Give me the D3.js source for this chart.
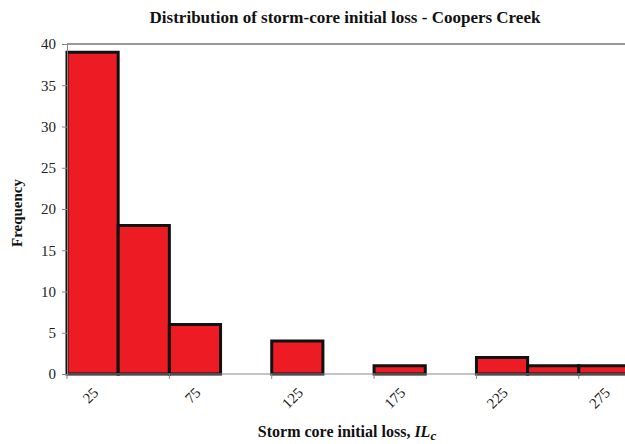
<!DOCTYPE html>
<html>
<head>
<meta charset="utf-8">
<script src="https://cdn.jsdelivr.net/npm/d3@7"></script>
<style>
  body { margin: 0; background: #fff; }
  text { font-family: "Liberation Serif", "Times New Roman", serif; }
</style>
</head>
<body>
<div id="chart"></div>
<script>
// histogram bins (initial loss) and their counts
var bins = ["25", "50", "75", "100", "125", "150", "175", "200", "225", "250", "275"]
var counts = [39, 18, 6, 0, 4, 0, 1, 0, 2, 1, 1]
var tickLabels = ["25", "75", "125", "175", "225", "275"]
var yTicks = [0, 5, 10, 15, 20, 25, 30, 35, 40]

var width = 625,
    height = 444

var svg = d3.select("#chart")
    .append("svg")
        .attr("width", width)
        .attr("height", height)

var x = d3.scaleBand()
    .domain(bins)
    .range([67, 630])
    .padding(0)

var y = d3.scaleLinear()
    .domain([0, 40])
    .range([374, 44])

// top line at 40
svg.append("line")
    .attr("x1", 67).attr("x2", width)
    .attr("y1", y(40)).attr("y2", y(40))
    .attr("stroke", "#333").attr("stroke-width", 1)

// bars (empty bins are skipped)
var barData = bins.map(function(b, i){ return {bin: b, count: counts[i]} })
    .filter(function(d){ return d.count > 0 })

svg.selectAll("rect.bar")
    .data(barData)
    .enter()
    .append("rect")
        .attr("class", "bar")
        .attr("x", function(d){ return x(d.bin) })
        .attr("y", function(d){ return y(d.count) })
        .attr("width", x.bandwidth())
        .attr("height", function(d){ return y(0) - y(d.count) })
        .attr("fill", "#ed1c24")
        .attr("stroke", "#111")
        .attr("stroke-width", 3)

// y axis
var yAxis = svg.append("g")
    .attr("transform", "translate(67,0)")
    .call(d3.axisLeft(y).tickValues(yTicks).tickSize(5).tickPadding(6))
yAxis.attr("font-family", "Liberation Serif")
yAxis.select(".domain").attr("stroke", "#888")
yAxis.selectAll(".tick line").attr("stroke", "#888")
yAxis.selectAll("text")
    .attr("font-size", "15px")
    .attr("fill", "#222")

// x axis: tick at left edge of labelled bins, label under bin centre
var xAxis = svg.append("g")
    .attr("transform", "translate(0," + y(0) + ")")
xAxis.append("line")
    .attr("x1", 67).attr("x2", width)
    .attr("stroke", "#888")
var xt = xAxis.selectAll("g.xtick")
    .data(tickLabels)
    .enter()
    .append("g")
        .attr("class", "xtick")
        .attr("transform", function(d){ return "translate(" + x(d) + ",0)" })
xt.append("line")
    .attr("y2", 5)
    .attr("stroke", "#888")
xt.append("text")
    .attr("transform", "translate(" + (x.bandwidth() / 2 + 3) + ",16) rotate(-45)")
    .attr("text-anchor", "end")
    .attr("dy", "0.35em")
    .attr("font-size", "15px")
    .attr("fill", "#222")
    .text(function(d){ return d })

// title
svg.append("text")
    .attr("x", 345)
    .attr("y", 23)
    .attr("text-anchor", "middle")
    .attr("font-size", "17px")
    .attr("font-weight", "bold")
    .attr("fill", "#111")
    .text("Distribution of storm-core initial loss - Coopers Creek")

// y label
svg.append("text")
    .attr("transform", "translate(22,213) rotate(-90)")
    .attr("text-anchor", "middle")
    .attr("font-size", "15px")
    .attr("font-weight", "bold")
    .attr("fill", "#111")
    .text("Frequency")

// x label
var xl = svg.append("text")
    .attr("x", 347)
    .attr("y", 437)
    .attr("text-anchor", "middle")
    .attr("font-size", "16px")
    .attr("font-weight", "bold")
    .attr("fill", "#111")
xl.append("tspan").text("Storm core initial loss, ")
xl.append("tspan").attr("font-style", "italic").text("IL")
xl.append("tspan").attr("font-style", "italic").attr("font-size", "13px").attr("dy", 3).text("c")
</script>
</body>
</html>
